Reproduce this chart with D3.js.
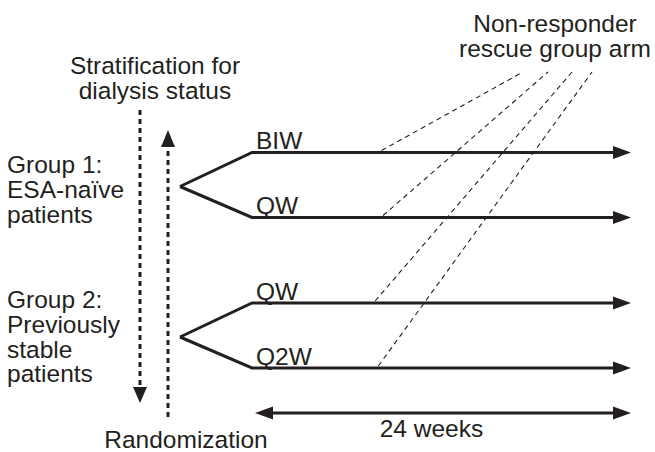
<!DOCTYPE html>
<html>
<head>
<meta charset="utf-8">
<script src="https://cdn.jsdelivr.net/npm/d3@7"></script>
<style>
  body { margin: 0; background: #fff; }
  svg text { font-family: "Liberation Sans", Arial, Helvetica, sans-serif; fill: #231f20; }
</style>
</head>
<body>
<svg width="655" height="452"></svg>
<script>
// study design data
const groupLabels = [
    ["Group 1:", "ESA-naïve", "patients"],
    ["Group 2:", "Previously", "stable", "patients"]
];
const armLabels = ["BIW", "QW", "QW", "Q2W"];
const armGroup = [0, 0, 1, 1];
const studyWeeks = [0, 24];
const rescueStartWeek = [8.2, 8.3, 7.8, 8.0];
const durationLabel = "24 weeks";
const stratLabel = ["Stratification for", "dialysis status"];
const randLabel = "Randomization";
const rescueLabel = ["Non-responder", "rescue group arm"];

const ink = "#231f20";
const svg = d3.select("svg");
const g = svg.append("g");

const x = d3.scaleLinear().domain(studyWeeks).range([252, 631]);

// vertical placement of the groups and their arms
const groupCenter = [185, 335.5];
const armSpread = 32.5;
const armY = armLabels.map((d, i) => groupCenter[armGroup[i]] + (i % 2 === 0 ? -armSpread : armSpread));
const vertexX = 180;

const fontSize = 24.5;
const lineH = 24.8;

function arrowHead(tipX, tipY, dir, len = 18, half = 6.5)
{
    // dir: "right", "left", "up", "down"
    let pts;
    if (dir === "right") pts = [[tipX, tipY], [tipX - len, tipY - half], [tipX - len, tipY + half]];
    if (dir === "left") pts = [[tipX, tipY], [tipX + len, tipY - half], [tipX + len, tipY + half]];
    if (dir === "up") pts = [[tipX, tipY], [tipX - half, tipY + len], [tipX + half, tipY + len]];
    if (dir === "down") pts = [[tipX, tipY], [tipX - half, tipY - len], [tipX + half, tipY - len]];
    g.append("polygon").attr("points", pts.map(p => p.join(",")).join(" ")).attr("fill", ink);
}

// dotted vertical arrows (stratification down, randomization up)
g.append("line")
    .attr("x1", 140).attr("x2", 140).attr("y1", 110).attr("y2", 388)
    .attr("stroke", ink).attr("stroke-width", 3).attr("stroke-dasharray", "5,4");
arrowHead(140, 403, "down", 16, 7);

g.append("line")
    .attr("x1", 168).attr("x2", 168).attr("y1", 417).attr("y2", 146)
    .attr("stroke", ink).attr("stroke-width", 3).attr("stroke-dasharray", "5,4");
arrowHead(168, 130, "up", 17, 7);

// rescue dashed lines from each arm to the label
const rescueTop = [523, 548, 572, 592];
g.selectAll(".rescue")
    .data(armLabels)
    .join("line")
    .attr("class", "rescue")
    .attr("x1", (d, i) => x(rescueStartWeek[i]))
    .attr("y1", (d, i) => armY[i] - 2)
    .attr("x2", (d, i) => rescueTop[i])
    .attr("y2", 72)
    .attr("stroke", ink)
    .attr("stroke-width", 1.1)
    .attr("stroke-dasharray", "5,4");

// randomization branches + arms
armLabels.forEach((d, i) =>
{
    const y = armY[i];
    const gy = groupCenter[armGroup[i]] + 1.5;
    g.append("polyline")
        .attr("points", `${vertexX},${gy} ${x(0)},${y} ${x(24) - 17},${y}`)
        .attr("fill", "none")
        .attr("stroke", ink)
        .attr("stroke-width", 3)
        .attr("stroke-linejoin", "miter");
    arrowHead(x(24), y, "right");

    g.append("text")
        .attr("x", x(0) + 4)
        .attr("y", y - 3.5)
        .attr("font-size", fontSize)
        .text(d);
});

// 24 weeks duration arrow
const durY = 413;
g.append("line")
    .attr("x1", x(0) + 18).attr("x2", x(24) - 17)
    .attr("y1", durY).attr("y2", durY)
    .attr("stroke", ink).attr("stroke-width", 3);
arrowHead(x(0) + 3, durY, "left");
arrowHead(x(24), durY, "right");
g.append("text")
    .attr("x", x(12) - 10)
    .attr("y", 437)
    .attr("text-anchor", "middle")
    .attr("font-size", fontSize)
    .text(durationLabel);

// group labels
const groupTop = [173, 308];
groupLabels.forEach((lines, gi) =>
{
    g.selectAll(null)
        .data(lines)
        .join("text")
        .attr("x", 7)
        .attr("y", (d, i) => groupTop[gi] + i * lineH)
        .attr("font-size", fontSize)
        .text(d => d);
});

// headings
g.selectAll(null)
    .data(stratLabel)
    .join("text")
    .attr("x", 155)
    .attr("y", (d, i) => 74 + i * lineH)
    .attr("text-anchor", "middle")
    .attr("font-size", fontSize)
    .text(d => d);

g.append("text")
    .attr("x", 186)
    .attr("y", 448)
    .attr("text-anchor", "middle")
    .attr("font-size", fontSize)
    .text(randLabel);

g.selectAll(null)
    .data(rescueLabel)
    .join("text")
    .attr("x", 555)
    .attr("y", (d, i) => 32 + i * lineH)
    .attr("text-anchor", "middle")
    .attr("font-size", fontSize)
    .text(d => d);
</script>
</body>
</html>
